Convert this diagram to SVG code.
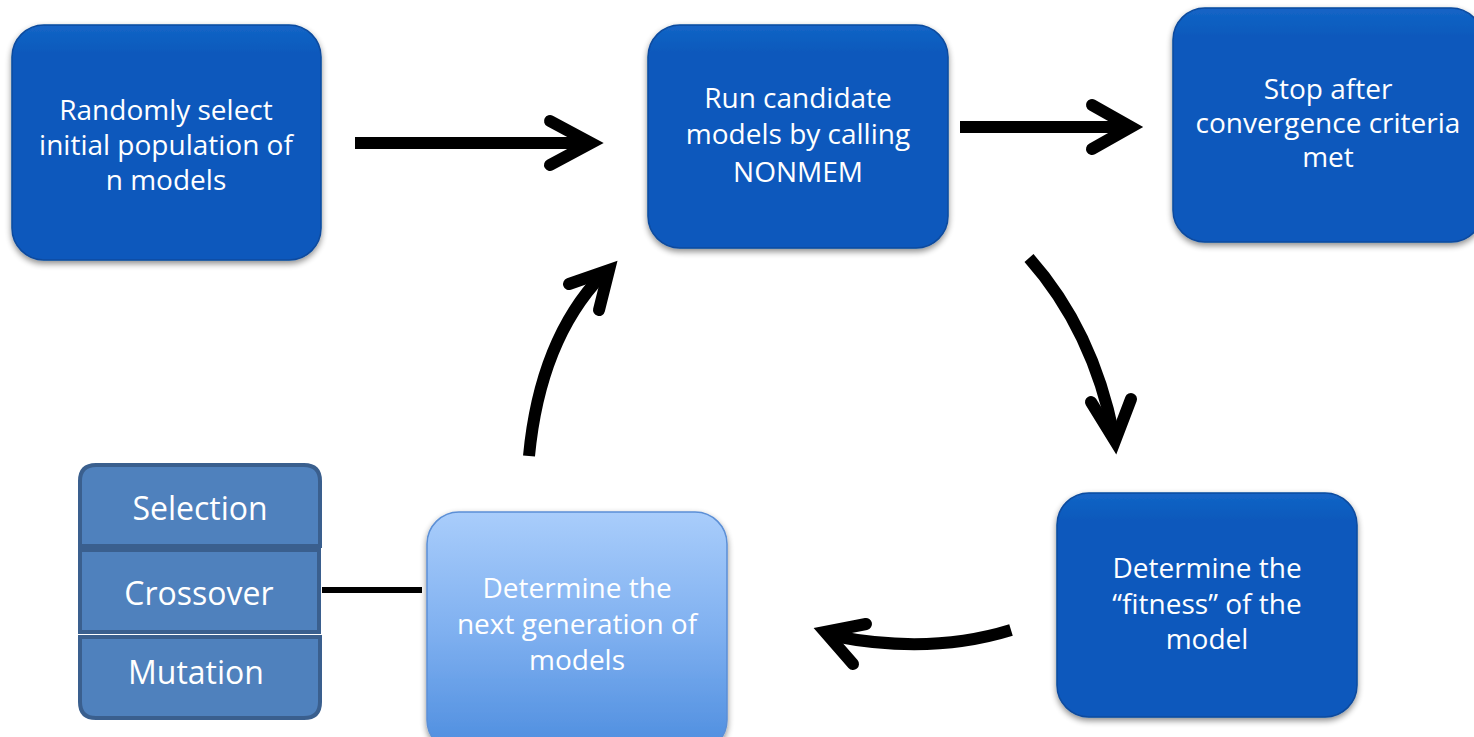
<svg xmlns="http://www.w3.org/2000/svg" width="1474" height="737" viewBox="0 0 1474 737">
  <defs>
    <filter id="shadow" x="-10%" y="-10%" width="120%" height="125%">
      <feGaussianBlur in="SourceAlpha" stdDeviation="3"/>
      <feOffset dx="0" dy="3" result="b"/>
      <feComponentTransfer><feFuncA type="linear" slope="0.45"/></feComponentTransfer>
      <feMerge><feMergeNode/><feMergeNode in="SourceGraphic"/></feMerge>
    </filter>
    <linearGradient id="lightBlue" x1="0" y1="0" x2="0" y2="1">
      <stop offset="0" stop-color="#a9cdfb"/>
      <stop offset="0.5" stop-color="#7fb0f0"/>
      <stop offset="1" stop-color="#4d8ddf"/>
    </linearGradient>
    <linearGradient id="darkBlue" x1="0" y1="0" x2="0" y2="1">
      <stop offset="0" stop-color="#1465c6"/>
      <stop offset="0.12" stop-color="#0859bc"/>
      <stop offset="1" stop-color="#0859bc"/>
    </linearGradient>
  </defs>
  <style>
    .box { fill: url(#darkBlue); stroke: #084a9e; stroke-width: 1.5; filter: url(#shadow); }
    .lbl { font-family: "Open Sans", "Liberation Sans", sans-serif; font-size: 28px; fill: #ffffff; text-anchor: middle; }
    .op { fill: #4f81bd; stroke: #3a5f8e; stroke-width: 4; }
    .opLbl { font-family: "Open Sans", "Liberation Sans", sans-serif; font-size: 32px; fill: #ffffff; text-anchor: middle; }
    .arrow { fill: none; stroke: #000000; stroke-width: 12; stroke-linecap: butt; }
    .head { fill: none; stroke: #000000; stroke-width: 12; stroke-linecap: round; stroke-linejoin: miter; }
  </style>

  <g id="node-init">
    <rect class="box" x="12" y="25" width="309" height="235" rx="32"/>
    <text class="lbl" x="166" y="120">Randomly select</text>
    <text class="lbl" x="166" y="155">initial population of</text>
    <text class="lbl" x="166" y="190">n models</text>
  </g>

  <g id="node-run">
    <rect class="box" x="648" y="25" width="300" height="223" rx="32"/>
    <text class="lbl" x="798" y="108">Run candidate</text>
    <text class="lbl" x="798" y="144">models by calling</text>
    <text class="lbl" x="798" y="182">NONMEM</text>
  </g>

  <g id="node-stop">
    <rect class="box" x="1173" y="8" width="310" height="234" rx="32"/>
    <text class="lbl" x="1328" y="99">Stop after</text>
    <text class="lbl" x="1328" y="133">convergence criteria</text>
    <text class="lbl" x="1328" y="167">met</text>
  </g>

  <g id="node-fitness">
    <rect class="box" x="1057" y="493" width="300" height="224" rx="32"/>
    <text class="lbl" x="1207" y="578">Determine the</text>
    <text class="lbl" x="1207" y="614">“fitness” of the</text>
    <text class="lbl" x="1207" y="649">model</text>
  </g>

  <g id="node-next">
    <rect x="427" y="512" width="300" height="240" rx="32" fill="url(#lightBlue)" stroke="#5b8fd6" stroke-width="1.5" filter="url(#shadow)"/>
    <text class="lbl" x="577" y="598">Determine the</text>
    <text class="lbl" x="577" y="634">next generation of</text>
    <text class="lbl" x="577" y="670">models</text>
  </g>

  <g id="node-operators">
    <path class="op" d="M80 546 V481 Q80 465 96 465 H304 Q320 465 320 481 V546 Z"/>
    <rect class="op" x="80" y="550" width="239" height="82"/>
    <path class="op" d="M80 637 H320 V702 Q320 718 304 718 H96 Q80 718 80 702 Z"/>
    <text class="opLbl" x="200" y="520">Selection</text>
    <text class="opLbl" x="199" y="605">Crossover</text>
    <text class="opLbl" x="196" y="684">Mutation</text>
  </g>

  <g id="connectors">
    <!-- initial population to run -->
    <line class="arrow" x1="355" y1="143" x2="586" y2="143"/>
    <polyline class="head" points="550,121 591,143 550,165"/>
    <!-- run to stop -->
    <line class="arrow" x1="960" y1="127" x2="1126" y2="127"/>
    <polyline class="head" points="1092,105 1131,127 1092,149"/>
    <!-- run to fitness -->
    <path class="arrow" d="M1029 258 Q1093 330 1114 436"/>
    <polyline class="head" points="1091,402 1115,441 1131,399"/>
    <!-- fitness to next generation -->
    <path class="arrow" d="M1011 630 Q930 655 834 636"/>
    <polyline class="head" points="866,624 825,632 853,664"/>
    <!-- next generation to run -->
    <path class="arrow" d="M529 456 Q540 340 602 275"/>
    <polyline class="head" points="569,284 609,270 599,310"/>
    <!-- operators joined to next generation -->
    <line x1="322" y1="590" x2="422" y2="590" stroke="#000000" stroke-width="6"/>
  </g>
</svg>
